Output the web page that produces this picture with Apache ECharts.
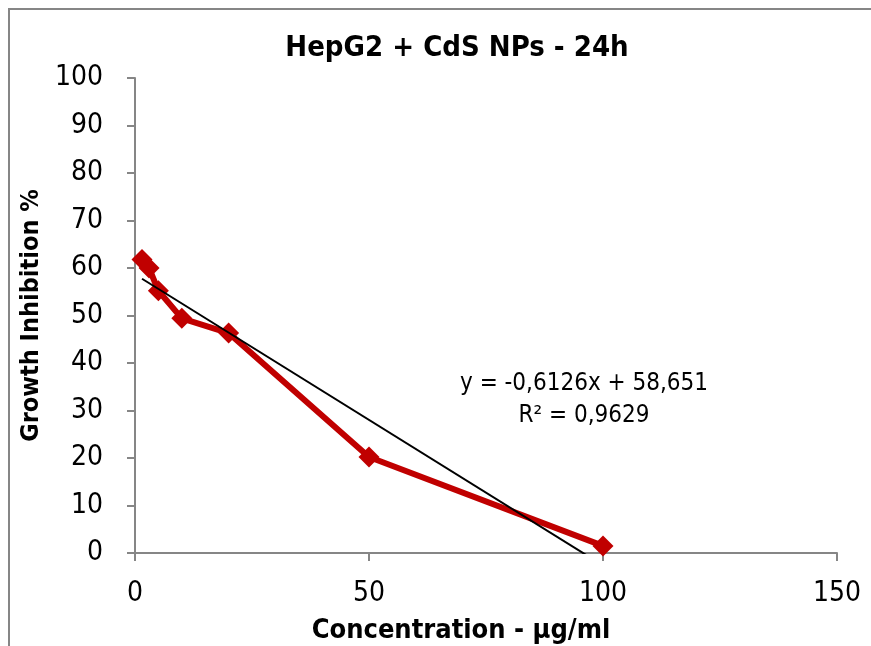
<!DOCTYPE html>
<html>
<head>
<meta charset="utf-8">
<title>HepG2 + CdS NPs - 24h</title>
<script src="https://cdn.jsdelivr.net/npm/echarts@6/dist/echarts.min.js"></script>
<style>
  html, body { margin: 0; padding: 0; background: #ffffff; }
  #chart { width: 871px; height: 646px; }
</style>
</head>
<body>
<div id="chart"></div>
<script>
// Concentration (µg/ml) and growth inhibition (%) for HepG2 cells after 24 h
const concentrations = [1.5, 3, 5, 10, 20, 50, 100];
const inhibition = [61.8, 60.0, 55.2, 49.4, 46.3, 20.2, 1.5];

// Linear trendline coefficients and fit quality
const trendSlope = -0.6126;
const trendIntercept = 58.651;
const trendR2 = '0,9629';

const xTicks = { min: 0, max: 150, interval: 50 };
const yTicks = { min: 0, max: 100, interval: 10 };

const FONT = '"DejaVu Sans Condensed", "Liberation Sans", sans-serif';

const points = concentrations.map((c, i) => [c, inhibition[i]]);
const xFirst = Math.min(...concentrations);
const xLast = Math.max(...concentrations);
const trendPoints = [
  [xFirst, trendSlope * xFirst + trendIntercept],
  [xLast, trendSlope * xLast + trendIntercept]
];

const fmt = v => String(v).replace('.', ',');
const equation = 'y = ' + fmt(trendSlope) + 'x + ' + fmt(trendIntercept);

const chart = echarts.init(document.getElementById('chart'));
chart.setOption({
  animation: false,
  backgroundColor: '#ffffff',
  title: {
    text: 'HepG2 + CdS NPs - 24h',
    left: 452,
    top: 29,
    textAlign: 'center',
    textStyle: { fontFamily: FONT, fontSize: 29, fontWeight: 'bold', color: '#000' }
  },
  grid: { left: 135, top: 78, width: 702, height: 475, outerBoundsMode: 'none' },
  xAxis: {
    type: 'value',
    min: xTicks.min, max: xTicks.max, interval: xTicks.interval,
    name: 'Concentration - µg/ml',
    nameLocation: 'middle',
    nameGap: 64,
    nameTextStyle: { fontFamily: FONT, fontSize: 27, fontWeight: 'bold', color: '#000', padding: [0, 50, 0, 0] },
    axisLine: { show: true, lineStyle: { color: '#868686', width: 2 } },
    axisTick: { show: true, length: 8, lineStyle: { color: '#868686', width: 2 } },
    axisLabel: { fontFamily: FONT, fontSize: 28, color: '#000', margin: 27 },
    splitLine: { show: false }
  },
  yAxis: {
    type: 'value',
    min: yTicks.min, max: yTicks.max, interval: yTicks.interval,
    name: 'Growth Inhibition %',
    nameLocation: 'middle',
    nameGap: 80,
    nameTextStyle: { fontFamily: FONT, fontSize: 25, fontWeight: 'bold', color: '#000' },
    axisLine: { show: true, lineStyle: { color: '#868686', width: 2 } },
    axisTick: { show: true, length: 8, lineStyle: { color: '#868686', width: 2 } },
    axisLabel: { fontFamily: FONT, fontSize: 28, color: '#000', margin: 32 },
    splitLine: { show: false }
  },
  series: [
    {
      name: 'Inhibition',
      type: 'line',
      data: points,
      lineStyle: { color: '#C00000', width: 6 },
      itemStyle: { color: '#C00000' },
      symbol: 'diamond',
      symbolSize: 21,
      z: 2
    },
    {
      name: 'Linear trend',
      type: 'line',
      data: trendPoints,
      lineStyle: { color: '#000000', width: 2 },
      symbol: 'none',
      silent: true,
      clip: true,
      z: 3
    }
  ],
  graphic: [
    {
      type: 'rect',
      shape: { x: 9, y: 9, width: 900, height: 700 },
      style: { fill: null, stroke: '#868686', lineWidth: 2 },
      silent: true
    },
    {
      type: 'text',
      x: 584, y: 400,
      style: {
        text: equation + '\nR² = ' + trendR2,
        font: '24px ' + FONT,
        fill: '#000',
        align: 'center',
        verticalAlign: 'middle',
        lineHeight: 32
      }
    }
  ]
});
</script>
</body>
</html>
